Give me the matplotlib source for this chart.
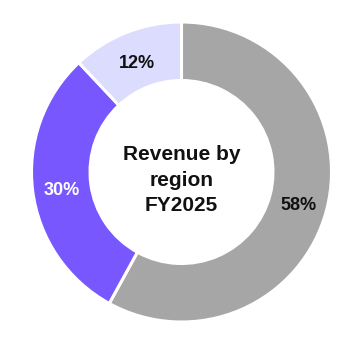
import matplotlib
matplotlib.use("Agg")
import matplotlib.pyplot as plt
import numpy as np

# Данные
values = [58, 30, 12]
labels = ["58%", "30%", "12%"]
colors = ["#a6a6a6", "#7857ff", "#dcdcff"]
label_colors = ["#111111", "#ffffff", "#111111"]
center_text = "Revenue by\nregion\nFY2025"

plt.rcParams['font.family'] = ['Liberation Sans', 'DejaVu Sans']

fig = plt.figure(figsize=(3.64, 3.44), dpi=100)
# оси так, чтобы центр был около (181, 172) px, радиус 150 px
ax = fig.add_axes([(181.5 - 150) / 364, (344 - 172 - 150) / 344, 300 / 364, 300 / 344])

width = 0.39
wedges, _ = ax.pie(values, colors=colors, startangle=90, counterclock=False,
                   radius=1.0,
                   wedgeprops=dict(width=width, edgecolor='white', linewidth=2.2))

# подписи процентов посередине кольца
theta = 90.0
for v, lab, c in zip(values, labels, label_colors):
    mid = theta - v / 100 * 360 / 2
    r = 1 - width / 2
    ax.text(r * np.cos(np.radians(mid)), r * np.sin(np.radians(mid)) - 0.025, lab,
            ha='center', va='center', fontsize=13, fontweight='bold', color=c)
    theta -= v / 100 * 360

ax.text(0, -0.055, center_text, ha='center', va='center', fontsize=15,
        fontweight='bold', color='#111111', linespacing=1.42)

ax.set_xlim(-1, 1)
ax.set_ylim(-1, 1)
ax.set_aspect('equal')
ax.axis('off')

fig.savefig("out.png", dpi=100, facecolor='white')
